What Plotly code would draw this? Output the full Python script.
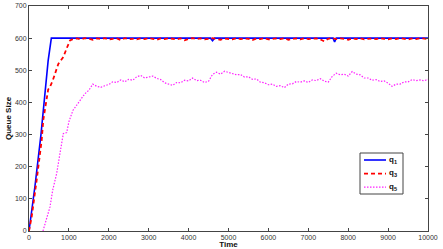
import plotly.graph_objects as go

# q1 (blue, solid)
t_q1 = [0, 150, 300, 400, 480, 560, 4550, 4600, 4650, 7620, 7660, 7700, 10000]
v_q1 = [0, 140, 300, 420, 530, 600, 600, 592, 600, 600, 588, 600, 600]

# q3 (red, dashed)
t_q3_ramp = [0, 67, 192, 318, 358, 420, 480, 526, 600, 735, 860, 950, 1028]
v_q3_ramp = [0, 44, 158, 283, 345, 400, 440, 448, 470, 520, 541, 570, 593]
t_q3_tail = list(range(1100, 10001, 100))
v_q3_tail = [597, 599, 596, 600, 598, 595, 599, 597, 600, 596,
             598, 599, 594, 600, 597, 598, 596, 599, 597, 600,
             598, 595, 599, 597, 600, 598, 596, 599, 593, 598,
             600, 597, 599, 596, 598, 600, 597, 595, 599, 598,
             596, 600, 597, 599, 598, 594, 599, 597, 600, 596,
             598, 599, 597, 600, 595, 598, 599, 596, 600, 597,
             598, 599, 596, 590, 598, 600, 597, 599, 598, 595,
             599, 597, 600, 596, 598, 599, 597, 600, 598, 596,
             599, 597, 600, 598, 596, 599, 597, 600, 598, 597]

# q5 (magenta, dotted)
t_q5_ramp = [350, 450, 526, 594, 694, 777, 860, 944]
v_q5_ramp = [0, 40, 75, 127, 179, 242, 303, 306]
t_q5_tail = list(range(1000, 10001, 100))
v_q5_tail = [340, 375, 392, 408, 427, 438, 457, 450, 447, 452,
             456, 464, 462, 470, 464, 472, 469, 480, 484, 476,
             478, 482, 475, 471, 461, 458, 453, 462, 461, 469,
             467, 476, 468, 469, 462, 466, 487, 494, 488, 497,
             493, 491, 486, 487, 479, 480, 472, 473, 463, 461,
             455, 457, 450, 452, 446, 457, 458, 465, 463, 467,
             462, 470, 468, 474, 466, 463, 481, 491, 486, 488,
             482, 496, 488, 486, 476, 476, 469, 471, 465, 467,
             460, 450, 457, 457, 464, 464, 471, 468, 470, 467, 472]

series_names = ["q<sub>1</sub>", "q<sub>3</sub>", "q<sub>5</sub>"]
series_colors = ["#0000ff", "#ff0000", "#ff22ff"]
series_dash = ["solid", "4px,3px", "1.5px,1.5px"]
series_width = [1.6, 1.8, 1.2]

x_ticks = list(range(0, 10001, 1000))
x_tick_labels = [str(v) for v in x_ticks]
y_ticks = list(range(0, 701, 100))
y_tick_labels = [str(v) for v in y_ticks]

W, H = 443, 249
ML, MR, MT, MB = 29, 15, 6, 18
PW, PH = W - ML - MR, H - MT - MB


def px(x):
    return (x - ML) / PW


def py(y):
    return (H - MB - y) / PH


fig = go.Figure()
series = [(t_q1, v_q1), (t_q3_ramp + t_q3_tail, v_q3_ramp + v_q3_tail),
          (t_q5_ramp + t_q5_tail, v_q5_ramp + v_q5_tail)]
for (tx, vy), nm, col, dsh, wd in zip(series, series_names, series_colors, series_dash, series_width):
    fig.add_trace(go.Scatter(x=tx, y=vy, mode="lines", name=nm, showlegend=False,
                             line=dict(color=col, width=wd, dash=dsh)))

axis_common = dict(showline=True, linecolor="#444", linewidth=1, mirror="ticks",
                   ticks="inside", ticklen=3, tickcolor="#444", showgrid=False,
                   zeroline=False, automargin=False, tickfont=dict(size=7, color="#333"))

# custom legend box
shapes = [dict(type="rect", xref="paper", yref="paper",
               x0=px(360), x1=px(403), y0=py(194), y1=py(153),
               line=dict(color="#444", width=1), fillcolor="white", layer="above")]
annotations = []
for i, (nm, col, dsh, wd) in enumerate(zip(series_names, series_colors, series_dash, series_width)):
    yy = 160 + i * 13.6
    shapes.append(dict(type="line", xref="paper", yref="paper",
                       x0=px(364), x1=px(386), y0=py(yy), y1=py(yy),
                       line=dict(color=col, width=wd, dash=dsh), layer="above"))
    annotations.append(dict(xref="paper", yref="paper", x=px(387), y=py(yy - 0.5),
                            xanchor="left", yanchor="middle", showarrow=False,
                            text="<b>" + nm + "</b>", font=dict(size=8, color="#111")))

fig.update_layout(
    width=W, height=H,
    margin=dict(l=ML, r=MR, t=MT, b=MB),
    paper_bgcolor="white", plot_bgcolor="white",
    font=dict(family="Liberation Sans, Arial, sans-serif", size=7, color="#111"),
    xaxis=dict(range=[0, 10000], tickvals=x_ticks, ticktext=x_tick_labels,
               title=dict(text="<b>Time</b>", font=dict(size=8), standoff=0), **axis_common),
    yaxis=dict(range=[0, 700], tickvals=y_ticks, ticktext=y_tick_labels,
               title=dict(text="<b>Queue Size</b>", font=dict(size=8), standoff=2), **axis_common),
    shapes=shapes, annotations=annotations,
    showlegend=False,
)

fig.write_html("out.html", config={"displayModeBar": False},
               post_script="document.body.style.margin='0px';")
